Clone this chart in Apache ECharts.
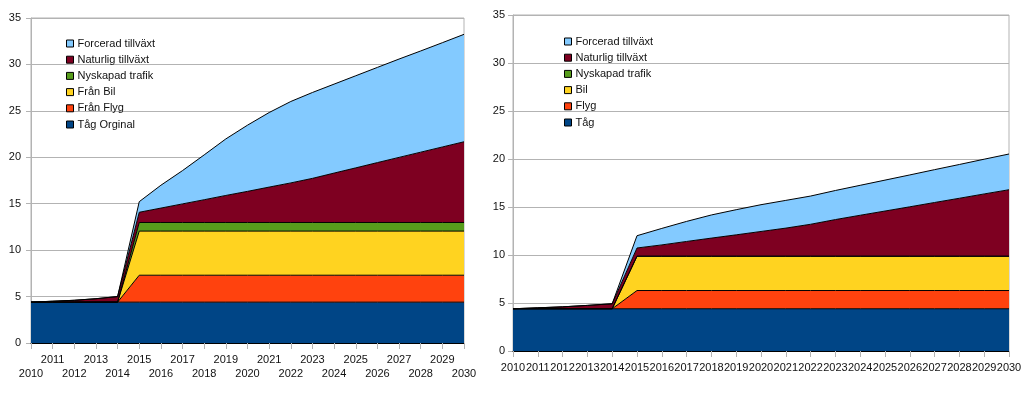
<!DOCTYPE html>
<html>
<head>
<meta charset="utf-8">
<script src="https://cdn.jsdelivr.net/npm/echarts@6/dist/echarts.min.js"></script>
<style>
html,body{margin:0;padding:0;background:#fff;}
#c{width:1023px;height:399px;}
</style>
</head>
<body>
<div id="c"></div>
<script>
var years = ['2010','2011','2012','2013','2014','2015','2016','2017','2018','2019','2020','2021','2022','2023','2024','2025','2026','2027','2028','2029','2030'];
var yTicks = [0,5,10,15,20,25,30,35];

// Left chart
var lTag  = [4.4,4.4,4.4,4.4,4.4,4.4,4.4,4.4,4.4,4.4,4.4,4.4,4.4,4.4,4.4,4.4,4.4,4.4,4.4,4.4,4.4];
var lFlyg = [0,0,0,0,0,2.9,2.9,2.9,2.9,2.9,2.9,2.9,2.9,2.9,2.9,2.9,2.9,2.9,2.9,2.9,2.9];
var lBil  = [0,0,0,0,0,4.75,4.75,4.75,4.75,4.75,4.75,4.75,4.75,4.75,4.75,4.75,4.75,4.75,4.75,4.75,4.75];
var lNy   = [0,0,0,0,0,0.93,0.93,0.93,0.93,0.93,0.93,0.93,0.93,0.93,0.93,0.93,0.93,0.93,0.93,0.93,0.93];
var lNat  = [0,0.1,0.2,0.37,0.6,1.1,1.55,2.0,2.45,2.91,3.35,3.81,4.26,4.75,5.32,5.88,6.45,7.01,7.57,8.13,8.69];
var lFor  = [0,0,0,0,0,1.14,2.46,3.59,4.83,6.09,7.13,8.03,8.77,9.25,9.58,9.92,10.25,10.59,10.9,11.23,11.57];

// Right chart
var rTag  = [4.4,4.4,4.4,4.4,4.4,4.4,4.4,4.4,4.4,4.4,4.4,4.4,4.4,4.4,4.4,4.4,4.4,4.4,4.4,4.4,4.4];
var rFlyg = [0,0,0,0,0,1.9,1.9,1.9,1.9,1.9,1.9,1.9,1.9,1.9,1.9,1.9,1.9,1.9,1.9,1.9,1.9];
var rBil  = [0,0,0,0,0,3.57,3.57,3.57,3.57,3.57,3.57,3.57,3.57,3.57,3.57,3.57,3.57,3.57,3.57,3.57,3.57];
var rNy   = [0,0,0,0,0,0,0,0,0,0,0,0,0,0,0,0,0,0,0,0,0];
var rNat  = [0,0.1,0.2,0.35,0.52,0.86,1.18,1.54,1.89,2.23,2.58,2.93,3.33,3.82,4.27,4.71,5.15,5.6,6.04,6.49,6.93];
var rFor  = [0,0,0,0,0,1.28,1.72,2.09,2.41,2.62,2.79,2.89,2.94,3.03,3.12,3.22,3.32,3.42,3.52,3.62,3.72];

var leftNames  = ['Forcerad tillväxt','Naturlig tillväxt','Nyskapad trafik','Från Bil','Från Flyg','Tåg Orginal'];
var rightNames = ['Forcerad tillväxt','Naturlig tillväxt','Nyskapad trafik','Bil','Flyg','Tåg'];
var colors = ['#83caff','#7e0021','#579d1c','#ffd320','#ff420e','#004586'];

var FONT = 'Liberation Sans, Arial, sans-serif';
var GRAY = '#b3b3b3';

function mkSeries(name, data, color, idx, stack) {
  return {
    type: 'line', name: name, data: data, stack: stack,
    xAxisIndex: idx, yAxisIndex: idx,
    symbol: 'none', smooth: false,
    itemStyle: {color: color},
    lineStyle: {color: '#000', width: 1},
    areaStyle: {color: color, opacity: 1},
    emphasis: {disabled: true},
    silent: true
  };
}

function mkX(idx, twoRows) {
  return {
    type: 'category', gridIndex: idx, data: years, boundaryGap: false, z: 5,
    axisLine: {show: true, lineStyle: {color: '#000', width: 1}},
    axisTick: {show: true, interval: 0, length: 6, lineStyle: {color: GRAY}},
    axisLabel: {
      interval: 0, margin: 10, fontSize: 11, fontFamily: FONT, color: '#111',
      lineHeight: 13.7,
      formatter: function (v, i) {
        if (!twoRows) return v;
        return (i % 2 === 0) ? '\n' + v : v;
      }
    },
    splitLine: {show: false}
  };
}

function mkY(idx, margin) {
  return {
    type: 'value', gridIndex: idx, min: yTicks[0], max: yTicks[yTicks.length - 1], interval: 5,
    axisLine: {show: true, lineStyle: {color: GRAY}},
    axisTick: {show: true, length: 5, lineStyle: {color: GRAY}},
    axisLabel: {margin: margin, fontSize: 11, fontFamily: FONT, color: '#111'},
    splitLine: {show: true, lineStyle: {color: GRAY, width: 1}}
  };
}

function mkLegend(names, left, top) {
  return {
    orient: 'vertical', left: left, top: top, data: names,
    icon: 'rect', itemWidth: 7, itemHeight: 7, itemGap: 5.2,
    itemStyle: {borderColor: '#000', borderWidth: 1},
    textStyle: {fontSize: 11, fontFamily: FONT, color: '#111', padding: [0,0,0,-1]},
    selectedMode: false
  };
}

var series = [];
var lData = [lTag, lFlyg, lBil, lNy, lNat, lFor];
var rData = [rTag, rFlyg, rBil, rNy, rNat, rFor];
for (var k = 0; k < 6; k++) {
  var ci = 5 - k;
  series.push(mkSeries(leftNames[ci], lData[k], colors[ci], 0, 'L'));
}
for (var k2 = 0; k2 < 6; k2++) {
  var cj = 5 - k2;
  series.push(mkSeries(rightNames[cj], rData[k2], colors[cj], 1, 'R'));
}

var chart = echarts.init(document.getElementById('c'), null, {renderer: 'canvas'});
chart.setOption({
  animation: false,
  backgroundColor: '#fff',
  textStyle: {fontFamily: FONT},
  grid: [
    {left: 31, top: 18, width: 433, height: 325, show: true, borderColor: GRAY, borderWidth: 1, outerBoundsMode: 'none', containLabel: false},
    {left: 513, top: 15, width: 496, height: 336, show: true, borderColor: GRAY, borderWidth: 1, outerBoundsMode: 'none', containLabel: false}
  ],
  xAxis: [mkX(0, true), mkX(1, false)],
  yAxis: [mkY(0, 10), mkY(1, 8)],
  legend: [mkLegend(leftNames, 61, 33), mkLegend(rightNames, 559, 31)],
  series: series
});
</script>
</body>
</html>
